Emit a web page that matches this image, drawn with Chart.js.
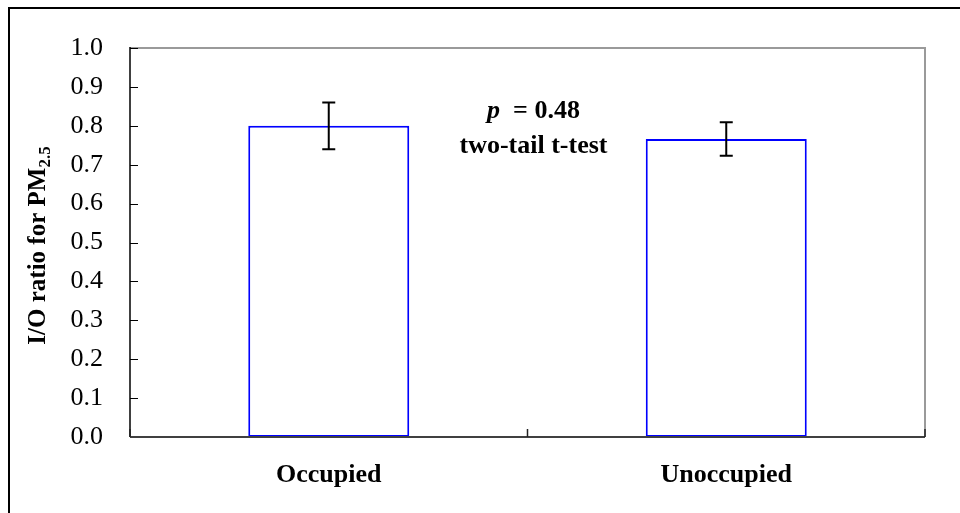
<!DOCTYPE html>
<html>
<head>
<meta charset="utf-8">
<script src="https://cdn.jsdelivr.net/npm/chart.js@4/dist/chart.umd.min.js"></script>
<style>
  html, body { margin: 0; padding: 0; background: #fff; }
  canvas { display: block; }
</style>
</head>
<body>
<canvas id="chart" width="960" height="513"></canvas>
<script>
// I/O ratio for PM2.5, occupied vs. unoccupied homes
const categories = ['Occupied', 'Unoccupied'];
const ioRatio = [0.80, 0.766];
const ioError = [0.06, 0.043];
const yTicks = [0.0, 0.1, 0.2, 0.3, 0.4, 0.5, 0.6, 0.7, 0.8, 0.9, 1.0];
const pValue = '0.48';
const testName = 'two-tail t-test';
const yTitleMain = 'I/O ratio for PM';
const yTitleSub = '2.5';

const SERIF = '"Liberation Serif", "Times New Roman", serif';

const decorations = {
  id: 'decorations',
  afterDatasetsDraw(chart) {
    const ctx = chart.ctx;
    const { left, right, top, bottom } = chart.chartArea;
    const x = chart.scales.x;
    const y = chart.scales.y;
    ctx.save();
    ctx.lineCap = 'butt';

    // outer frame (left and top edges visible)
    ctx.strokeStyle = '#000';
    ctx.lineWidth = 2;
    ctx.beginPath();
    ctx.moveTo(9, 513);
    ctx.lineTo(9, 8);
    ctx.lineTo(960, 8);
    ctx.stroke();

    // plot frame: light top and right edges
    ctx.strokeStyle = '#9a9a9a';
    ctx.lineWidth = 2;
    ctx.beginPath();
    ctx.moveTo(left, top);
    ctx.lineTo(right, top);
    ctx.lineTo(right, bottom);
    ctx.stroke();

    // value axis
    ctx.strokeStyle = '#000';
    ctx.lineWidth = 1.5;
    ctx.beginPath();
    ctx.moveTo(left, top - 1);
    ctx.lineTo(left, bottom);
    ctx.stroke();

    // inner tick marks on the value axis
    ctx.lineWidth = 1;
    yTicks.forEach(v => {
      const py = Math.round(y.getPixelForValue(v)) + 0.5;
      ctx.beginPath();
      ctx.moveTo(left, py);
      ctx.lineTo(left + 8, py);
      ctx.stroke();
    });

    // category axis
    ctx.strokeStyle = '#404040';
    ctx.lineWidth = 2;
    ctx.beginPath();
    ctx.moveTo(left, bottom);
    ctx.lineTo(right, bottom);
    ctx.stroke();

    // inner tick marks between categories
    ctx.strokeStyle = '#222';
    ctx.lineWidth = 1.5;
    for (let i = 0; i <= categories.length; i++) {
      const px = x.getPixelForValue(i - 0.5);
      ctx.beginPath();
      ctx.moveTo(px, bottom);
      ctx.lineTo(px, bottom - 8);
      ctx.stroke();
    }

    // error bars
    ctx.strokeStyle = '#000';
    ctx.lineWidth = 2;
    ioRatio.forEach((v, i) => {
      const px = x.getPixelForValue(i);
      const hi = y.getPixelForValue(v + ioError[i]);
      const lo = y.getPixelForValue(v - ioError[i]);
      ctx.beginPath();
      ctx.moveTo(px, hi);
      ctx.lineTo(px, lo);
      ctx.moveTo(px - 6.5, hi);
      ctx.lineTo(px + 6.5, hi);
      ctx.moveTo(px - 6.5, lo);
      ctx.lineTo(px + 6.5, lo);
      ctx.stroke();
    });

    // significance note
    const cx = x.getPixelForValue(0.5) + 6;
    ctx.fillStyle = '#000';
    ctx.textBaseline = 'alphabetic';
    const pTxt = 'p';
    const restTxt = '  = ' + pValue;
    ctx.font = 'italic bold 26px ' + SERIF;
    const wP = ctx.measureText(pTxt).width;
    ctx.font = 'bold 26px ' + SERIF;
    const wRest = ctx.measureText(restTxt).width;
    const l1y = y.getPixelForValue(0.82);
    let sx = cx - (wP + wRest) / 2;
    ctx.font = 'italic bold 26px ' + SERIF;
    ctx.textAlign = 'left';
    ctx.fillText(pTxt, sx, l1y);
    ctx.font = 'bold 26px ' + SERIF;
    ctx.fillText(restTxt, sx + wP, l1y);
    ctx.textAlign = 'center';
    ctx.fillText(testName, cx, y.getPixelForValue(0.73));

    // value axis title with subscript
    ctx.save();
    ctx.translate(45, (top + bottom) / 2 + 3);
    ctx.rotate(-Math.PI / 2);
    ctx.textAlign = 'left';
    ctx.font = 'bold 25px ' + SERIF;
    const wMain = ctx.measureText(yTitleMain).width;
    ctx.font = 'bold 17px ' + SERIF;
    const wSub = ctx.measureText(yTitleSub).width;
    const start = -(wMain + wSub) / 2;
    ctx.font = 'bold 25px ' + SERIF;
    ctx.fillText(yTitleMain, start, 0);
    ctx.font = 'bold 17px ' + SERIF;
    ctx.fillText(yTitleSub, start + wMain, 5);
    ctx.restore();

    ctx.restore();
  }
};

new Chart(document.getElementById('chart'), {
  type: 'bar',
  data: {
    labels: categories,
    datasets: [{
      data: ioRatio,
      backgroundColor: '#ffffff',
      borderColor: '#0000ff',
      borderWidth: 2,
      borderSkipped: false,
      barPercentage: 0.405,
      categoryPercentage: 1.0
    }]
  },
  options: {
    responsive: false,
    animation: false,
    events: [],
    layout: { padding: { left: 0, right: 35, top: 48, bottom: 0 } },
    plugins: {
      legend: { display: false },
      tooltip: { enabled: false }
    },
    scales: {
      x: {
        grid: { display: false, drawTicks: false },
        border: { display: false },
        ticks: {
          color: '#000',
          padding: 23,
          font: { family: SERIF, size: 26, weight: 'bold' }
        },
        afterFit(scale) { scale.height = 76; }
      },
      y: {
        min: 0,
        max: 1,
        grid: { display: false, drawTicks: false },
        border: { display: false },
        ticks: {
          stepSize: 0.1,
          color: '#000',
          padding: 27,
          font: { family: SERIF, size: 26 },
          callback: v => Number(v).toFixed(1)
        },
        afterFit(scale) { scale.width = 130; }
      }
    }
  },
  plugins: [decorations]
});
</script>
</body>
</html>
